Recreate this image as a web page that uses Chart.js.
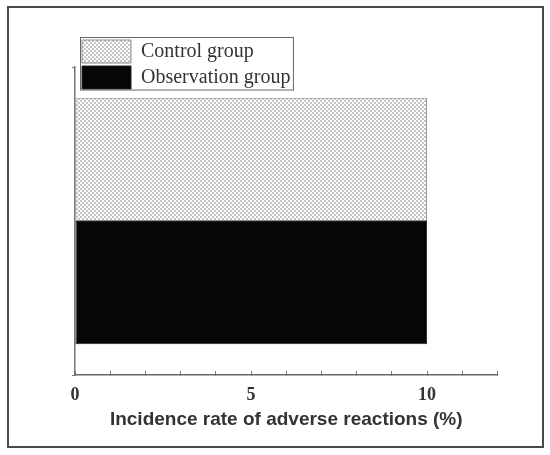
<!DOCTYPE html>
<html>
<head>
<meta charset="utf-8">
<script src="https://cdn.jsdelivr.net/npm/chart.js@4"></script>
<style>
html, body { margin: 0; padding: 0; background: #ffffff; }
canvas { display: block; }
</style>
</head>
<body>
<canvas id="c" width="550" height="455"></canvas>
<script>
// ---- data ----
const categories = ['Incidence'];
const seriesNames = ['Control group', 'Observation group'];
const controlValues = [10];
const observationValues = [10];
const xTickLabels = [0, 5, 10];
const xAxisTitle = 'Incidence rate of adverse reactions (%)';

// ---- dotted fill pattern for the control group ----
function makeDots() {
  const t = document.createElement('canvas');
  t.width = 4; t.height = 4;
  const g = t.getContext('2d');
  g.fillStyle = '#ffffff'; g.fillRect(0, 0, 4, 4);
  g.fillStyle = '#c4c4c4';
  g.fillRect(0, 0, 2, 2);
  g.fillRect(2, 2, 2, 2);
  return document.getElementById('c').getContext('2d').createPattern(t, 'repeat');
}
const dots = makeDots();

const framePlugin = {
  id: 'frame',
  beforeDraw(chart) {
    const ctx = chart.ctx;
    ctx.save();
    ctx.fillStyle = '#ffffff';
    ctx.fillRect(0, 0, chart.width, chart.height);
    ctx.strokeStyle = '#4a4a4a';
    ctx.lineWidth = 2;
    ctx.strokeRect(8, 7, 535, 440);
    ctx.restore();
  }
};

const legendPlace = {
  id: 'legendPlace',
  afterLayout(chart) {
    const l = chart.legend;
    const w = l.width, h = l.height;
    l.left = 79; l.top = 37;
    l.right = l.left + w; l.bottom = l.top + h;
  },
  afterDraw(chart) {
    const l = chart.legend;
    const hb = l.legendHitBoxes;
    if (!hb || !hb.length) return;
    const right = Math.max(...hb.map(b => b.left + b.width)) + 3;
    const last = hb[hb.length - 1];
    const bottom = last.top + last.height + 1;
    const ctx = chart.ctx;
    ctx.save();
    ctx.strokeStyle = '#666666';
    ctx.lineWidth = 1;
    ctx.strokeRect(80.5, 37.5, right - 80.5, bottom - 37.5);
    ctx.restore();
  }
};

new Chart(document.getElementById('c'), {
  type: 'bar',
  data: {
    labels: categories,
    datasets: [
      {
        label: seriesNames[0],
        data: controlValues,
        backgroundColor: dots,
        borderColor: '#8a8a8a',
        borderWidth: 1,
        borderSkipped: false
      },
      {
        label: seriesNames[1],
        data: observationValues,
        backgroundColor: '#060606',
        borderColor: '#222222',
        borderWidth: 1,
        borderSkipped: false
      }
    ]
  },
  options: {
    indexAxis: 'y',
    responsive: false,
    animation: false,
    devicePixelRatio: 1,
    events: [],
    categoryPercentage: 0.8,
    barPercentage: 1.0,
    layout: { padding: { left: 65, right: 52.5, top: 67, bottom: 0 } },
    plugins: {
      tooltip: { enabled: false },
      legend: {
        position: 'chartArea',
        align: 'start',
        labels: {
          boxWidth: 49,
          boxHeight: 23,
          padding: 3,
          color: '#333333',
          font: { family: 'Liberation Serif', size: 20 }
        }
      }
    },
    scales: {
      x: {
        type: 'linear',
        position: 'bottom',
        min: 0,
        max: 12,
        afterFit(s) { s.height = 80; },
        ticks: {
          stepSize: 1,
          autoSkip: false,
          maxRotation: 0,
          padding: 13.5,
          color: '#333333',
          font: { family: 'Liberation Serif', size: 18, weight: 'bold' },
          callback: (v) => xTickLabels.includes(v) ? String(v) : ''
        },
        grid: {
          drawOnChartArea: false,
          drawTicks: true,
          tickLength: -4,
          color: '#777777',
          lineWidth: 1
        },
        border: { display: true, color: '#666666', width: 1.5 },
        title: {
          display: true,
          text: xAxisTitle,
          color: '#333333',
          font: { family: 'Liberation Sans', size: 19, weight: 'bold' },
          padding: { top: 0, bottom: 24 }
        }
      },
      y: {
        type: 'category',
        offset: true,
        afterFit(s) { s.width = 10; },
        ticks: { display: false },
        grid: {
          display: true,
          drawOnChartArea: false,
          offset: true,
          tickLength: 3,
          color: '#777777'
        },
        border: { display: true, color: '#777777', width: 1.5 }
      }
    }
  },
  plugins: [framePlugin, legendPlace]
});
</script>
</body>
</html>
